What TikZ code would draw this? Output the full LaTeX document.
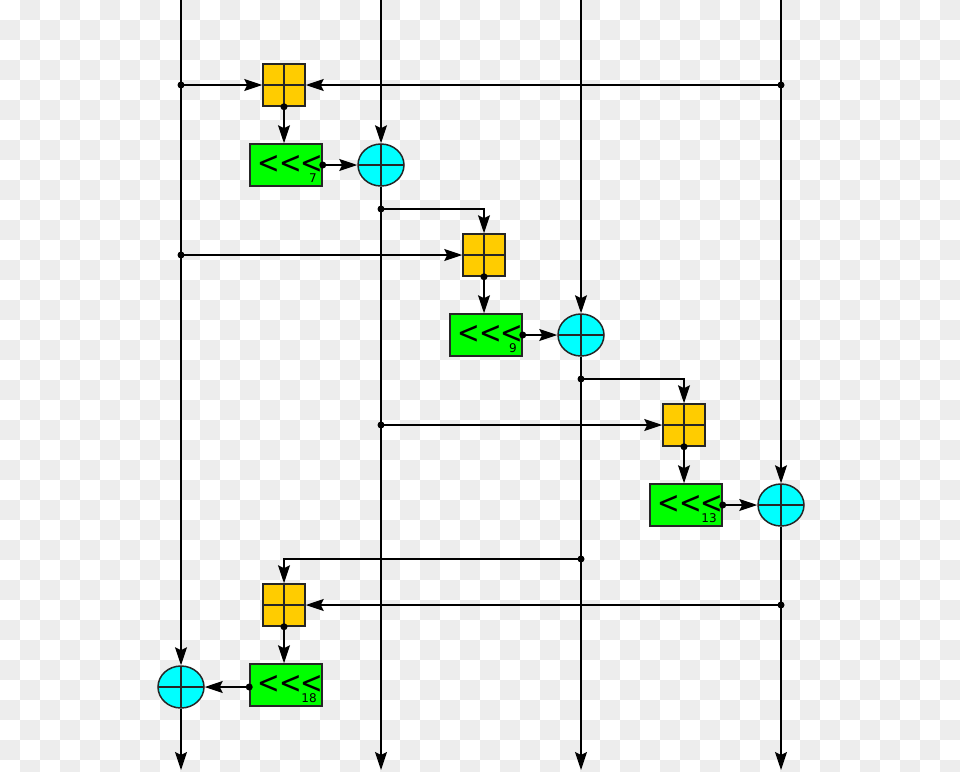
\documentclass[tikz,border=0pt]{standalone}
\usepackage{graphicx}
\usepackage{fontspec}
\setmainfont{DejaVu Sans}
\usetikzlibrary{arrows.meta,shapes.geometric,calc}
\definecolor{bgray}{HTML}{EDEDED}
\definecolor{addy}{RGB}{255,204,0}
\definecolor{rotg}{RGB}{0,255,0}
\definecolor{xorc}{RGB}{0,255,255}
\newcommand{\rotsym}{\raisebox{-4.3pt}[15pt][0pt]{\scalebox{1}[1.15]{\fontsize{27}{27}\selectfont <\kern-1.2pt<\kern-1.2pt<}}}
\begin{document}
\begin{tikzpicture}[x=1pt,y=-1pt,
  line width=1.5pt,
  arr/.style={-{Stealth[length=18pt,width=12pt,inset=3pt]}},
  addbox/.style={draw=black!85,fill=addy,minimum width=42pt,minimum height=42pt,inner sep=0pt,
    path picture={\draw[line width=1.3pt] (path picture bounding box.north) -- (path picture bounding box.south)
      (path picture bounding box.west) -- (path picture bounding box.east);}},
  rotbox/.style={draw=black!85,fill=rotg,minimum width=72pt,minimum height=42pt,inner sep=0pt},
  xorc/.style={ellipse,draw=black!85,fill=xorc,minimum width=46pt,minimum height=42pt,inner sep=0pt,
    path picture={\draw[line width=1.3pt] (path picture bounding box.north) -- (path picture bounding box.south)
      (path picture bounding box.west) -- (path picture bounding box.east);}},
  dot/.style={circle,fill=black,inner sep=0pt,minimum size=7pt},
  amt/.style={font=\fontsize{12}{12}\selectfont,inner sep=0pt,anchor=base east},
  sym/.style={inner sep=0pt,anchor=base west}
]
\useasboundingbox (0,0) rectangle (960,771);
\fill[white] (0,0) rectangle (960,771);
\begin{scope}
\clip (0,0) rectangle (960,771);
\foreach \i in {0,...,47}{
  \foreach \j in {0,...,38}{
    \pgfmathtruncatemacro\p{mod(\i+\j,2)}
    \ifnum\p=1 \fill[bgray] (\i*20,\j*20) rectangle ++(20,20); \fi
  }}
\end{scope}

% top and bottom free ends
\coordinate (t1) at (181,0); \coordinate (t2) at (381,0);
\coordinate (t3) at (581,0); \coordinate (t4) at (781,0);
\coordinate (b1) at (181,770); \coordinate (b2) at (381,770);
\coordinate (b3) at (581,770); \coordinate (b4) at (781,770);

% round 1
\node[addbox] (y1) at (284,85) {};
\node[rotbox] (g1) at (286,165) {};
\node[sym] (s1) at (257,169) {\rotsym};
\node[amt] (n1) at (317.5,182) {7};
\node[xorc] (c1) at (381,165) {};
% round 2
\node[addbox] (y2) at (484,255) {};
\node[rotbox] (g2) at (486,335) {};
\node[sym] (s2) at (457,339) {\rotsym};
\node[amt] (n2) at (517.5,352) {9};
\node[xorc] (c2) at (581,335) {};
% round 3
\node[addbox] (y3) at (684,425) {};
\node[rotbox] (g3) at (686,505) {};
\node[sym] (s3) at (657,509) {\rotsym};
\node[amt] (n3) at (717.5,522) {13};
\node[xorc] (c3) at (781,505) {};
% round 4
\node[addbox] (y4) at (284,605) {};
\node[rotbox] (g4) at (286,685) {};
\node[sym] (s4) at (257,689) {\rotsym};
\node[amt] (n4) at (317.5,702) {18};
\node[xorc] (c4) at (181,687) {};

% branch points
\coordinate (a1) at (181,85);  \coordinate (a2) at (781,85);
\coordinate (a3) at (381,209); \coordinate (a4) at (181,255);
\coordinate (a5) at (581,379); \coordinate (a6) at (381,425);
\coordinate (a7) at (581,559); \coordinate (a8) at (781,605);

% vertical lanes
\draw[arr] (t1) -- (c4);  \draw[arr] (c4) -- (b1);
\draw[arr] (t2) -- (c1);  \draw[arr] (c1) -- (b2);
\draw[arr] (t3) -- (c2);  \draw[arr] (c2) -- (b3);
\draw[arr] (t4) -- (c3);  \draw[arr] (c3) -- (b4);

% round 1 connections
\draw[arr] (a1) -- (y1.west);
\draw[arr] (a2) -- (y1.east);
\draw[arr] (y1.south) -- (y1.south |- g1.north);
\draw[arr] (g1.east) -- (c1.west);
% round 2
\draw[arr] (a3) -| (y2.north);
\draw[arr] (a4) -- (y2.west);
\draw[arr] (y2.south) -- (y2.south |- g2.north);
\draw[arr] (g2.east) -- (c2.west);
% round 3
\draw[arr] (a5) -| (y3.north);
\draw[arr] (a6) -- (y3.west);
\draw[arr] (y3.south) -- (y3.south |- g3.north);
\draw[arr] (g3.east) -- (c3.west);
% round 4
\draw[arr] (a7) -| (y4.north);
\draw[arr] (a8) -- (y4.east);
\draw[arr] (y4.south) -- (y4.south |- g4.north);
\draw[arr] (g4.west |- c4) -- (c4.east);

% dots
\foreach \c in {a1,a2,a3,a4,a5,a6,a7,a8}{\node[dot] at (\c) {};}
\node[dot] at (y1.south) {}; \node[dot] at (y2.south) {};
\node[dot] at (y3.south) {}; \node[dot] at (y4.south) {};
\node[dot] at (g1.east) {}; \node[dot] at (g2.east) {};
\node[dot] at (g3.east) {}; \node[dot] at (g4.west |- c4) {};
\end{tikzpicture}
\end{document}
